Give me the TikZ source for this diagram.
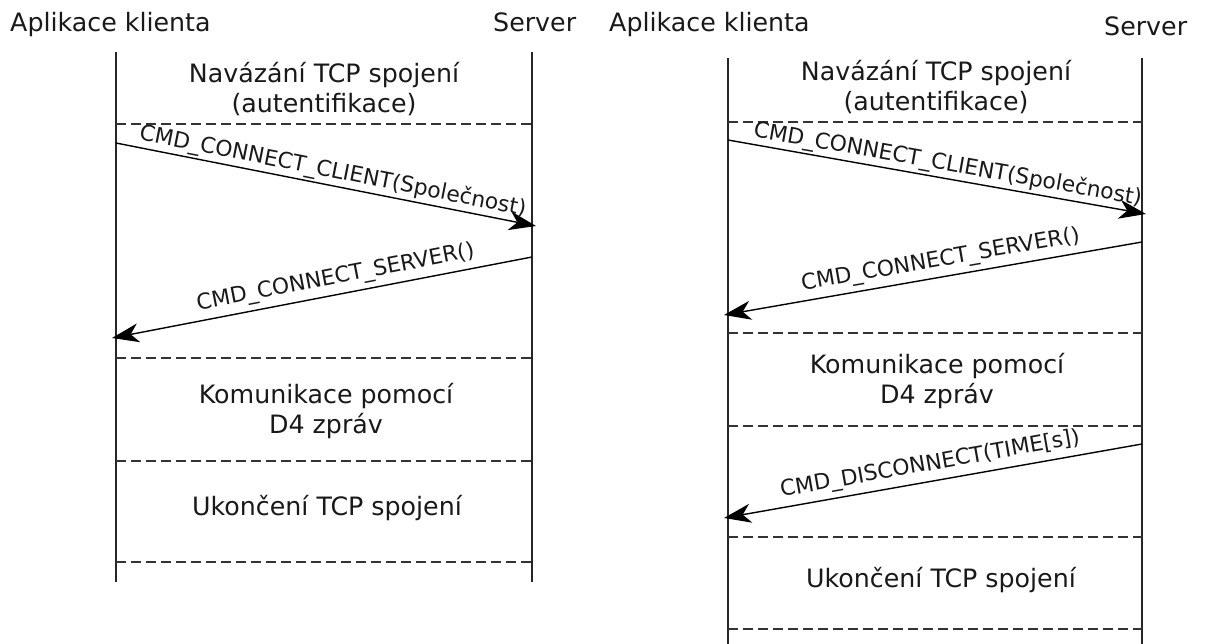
\documentclass[tikz,border=0pt]{standalone}
\usepackage{fontspec}
\setmainfont{DejaVu Sans}
\usetikzlibrary{arrows.meta}
\begin{document}
\begin{tikzpicture}[x=1pt,y=-1pt,
  life/.style={line width=2pt, draw=black!85},
  sepline/.style={line width=1.9pt, draw=black!80, dash pattern=on 10pt off 5pt},
  msg/.style={line width=1.4pt, draw=black, -{Stealth[length=27pt,width=19pt,inset=8pt]}},
  big/.style={font=\fontsize{25.3}{30}\selectfont, inner sep=0pt, align=center, text=black!90},
  lab/.style={font=\fontsize{21.8}{26}\selectfont, inner sep=2pt, sloped, above, text=black!90}]
\useasboundingbox (0,0) rectangle (1207,644);

% headers
\node[big, anchor=base west] (h1) at (10,32) {Aplikace klienta};
\node[big, anchor=base west] (h2) at (493,32) {Server};
\node[big, anchor=base west] (h3) at (609,32) {Aplikace klienta};
\node[big, anchor=base west] (h4) at (1104,36) {Server};

% ---------- left diagram ----------
\coordinate (Lct) at (116,52);  \coordinate (Lcb) at (116,582);
\coordinate (Lst) at (532,52);  \coordinate (Lsb) at (532,582);
\draw[life] (Lct) -- (Lcb);
\draw[life] (Lst) -- (Lsb);
\foreach \y/\n in {124/a,358/b,461/c,562/d}{
  \coordinate (Ld\n l) at (116,\y); \coordinate (Ld\n r) at (532,\y);
  \draw[sepline] (Ld\n l) -- (Ld\n r);
}
\node[big] (Ltcp) at (324,89) {Navázání TCP spojení\\(autentifikace)};
\node[big] (Lkom) at (326,411) {Komunikace pomocí\\D4 zpráv};
\node[big] (Lend) at (327,508) {Ukončení TCP spojení};

\coordinate (Lm1s) at (116,143); \coordinate (Lm1e) at (536,226);
\draw[msg] (Lm1s) -- node[lab, pos=0.51] (Lm1l) {CMD\_CONNECT\_CLIENT(Společnost)} (Lm1e);
\coordinate (Lm2s) at (532,257); \coordinate (Lm2e) at (112,338);
\draw[msg] (Lm2s) -- node[lab, pos=0.46, inner sep=5pt] (Lm2l) {CMD\_CONNECT\_SERVER()} (Lm2e);

% ---------- right diagram ----------
\coordinate (Rct) at (728,58);  \coordinate (Rcb) at (728,644);
\coordinate (Rst) at (1142,58); \coordinate (Rsb) at (1142,644);
\draw[life] (Rct) -- (Rcb);
\draw[life] (Rst) -- (Rsb);
\foreach \y/\n in {122/a,333/b,426/c,537/d,629/e}{
  \coordinate (Rd\n l) at (728,\y); \coordinate (Rd\n r) at (1142,\y);
  \draw[sepline] (Rd\n l) -- (Rd\n r);
}
\node[big] (Rtcp) at (936,87) {Navázání TCP spojení\\(autentifikace)};
\node[big] (Rkom) at (937,381) {Komunikace pomocí\\D4 zpráv};
\node[big] (Rend) at (941,580) {Ukončení TCP spojení};

\coordinate (Rm1s) at (728,140); \coordinate (Rm1e) at (1146,214);
\draw[msg] (Rm1s) -- node[lab, pos=0.52] (Rm1l) {CMD\_CONNECT\_CLIENT(Společnost)} (Rm1e);
\coordinate (Rm2s) at (1142,242); \coordinate (Rm2e) at (724,315);
\draw[msg] (Rm2s) -- node[lab, pos=0.475, inner sep=5pt] (Rm2l) {CMD\_CONNECT\_SERVER()} (Rm2e);
\coordinate (Rm3s) at (1142,444); \coordinate (Rm3e) at (724,518);
\draw[msg] (Rm3s) -- node[lab, pos=0.5, inner sep=5pt] (Rm3l) {CMD\_DISCONNECT(TIME[s])} (Rm3e);
\end{tikzpicture}
\end{document}
